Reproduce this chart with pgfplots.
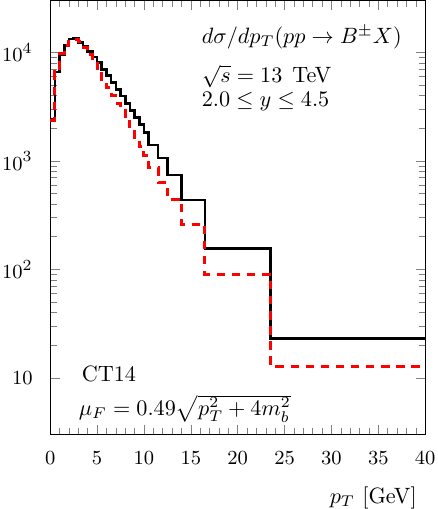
\documentclass[border=0pt]{standalone}
\usepackage{pgfplots}
\pgfplotsset{compat=1.18}

% B+- transverse-momentum spectrum, two scale choices
\pgfplotstableread{
pt    val
0     2400
0.5   6600
1     9500
1.5   11700
2     13300
2.5   13400
3     12300
3.5   11400
4     10250
4.5   9100
5     8050
5.5   7000
6     6100
6.5   5250
7     4550
7.5   3950
8     3400
8.5   2900
9     2500
9.5   2150
10    1820
10.5  1400
11.5  1060
12.5  741
14    435
16.5  155
23.5  23.1
40    23.1
}\solid

\pgfplotstableread{
pt    val
0     2350
0.5   6600
1     9800
1.5   11600
2     13200
2.5   13200
3     12600
3.5   11200
4     9500
4.5   7900
5     6600
5.5   5600
6     4700
6.5   3980
7     3390
7.5   2900
8     2400
8.5   1980
9     1640
9.5   1350
10    1120
10.5  875
11.5  635
12.5  442
14    261
16.5  90
23.5  12.7
40    12.7
}\dashed

\begin{document}
\begin{tikzpicture}
\begin{axis}[
  scale only axis,
  width=169pt, height=195.5pt,
  xmin=0, xmax=40,
  ymode=log, ymin=3, ymax=3e4,
  xtick={0,5,...,40},
  minor x tick num=4,
  ytick={10,100,1000,10000},
  yticklabels={$10$,$10^2$,$10^3$,$10^4$},
  tick label style={font=\fontsize{9.5}{11}\selectfont, inner sep=1pt},
  yticklabel style={xshift=-6.7pt},
  xticklabel style={yshift=-6.6pt},
  axis line style={line width=0.6pt},
  xlabel={$p_T$ [GeV]},
  xlabel style={at={(axis description cs:1,0)}, anchor=east, inner sep=0pt, xshift=-3.6pt, yshift=-28.6pt},
  clip=true,
]
\addplot[const plot mark left, black, line width=1.2pt] table[x=pt, y=val] {\solid};
\addplot[const plot mark left, red, line width=1.35pt, dash pattern=on 3.8pt off 3pt] table[x=pt, y=val] {\dashed};

\node[anchor=base west, inner sep=0pt] at (rel axis cs:0.403,0.902) {$d\sigma/dp_T(pp\to B^{\pm}X)$};
\node[anchor=base west, inner sep=0pt] at (rel axis cs:0.403,0.811) {$\sqrt{s}=13$\hspace{0.45em}TeV};
\node[anchor=base west, inner sep=0pt] at (rel axis cs:0.403,0.756) {$2.0\le y\le 4.5$};
\node[anchor=base west, inner sep=0pt] at (rel axis cs:0.083,0.121) {CT14};
\node[anchor=base west, inner sep=0pt] at (rel axis cs:0.075,0.044) {$\mu_F=0.49\sqrt{p_T^2+4m_b^2}$};
\end{axis}
\end{tikzpicture}
\end{document}
